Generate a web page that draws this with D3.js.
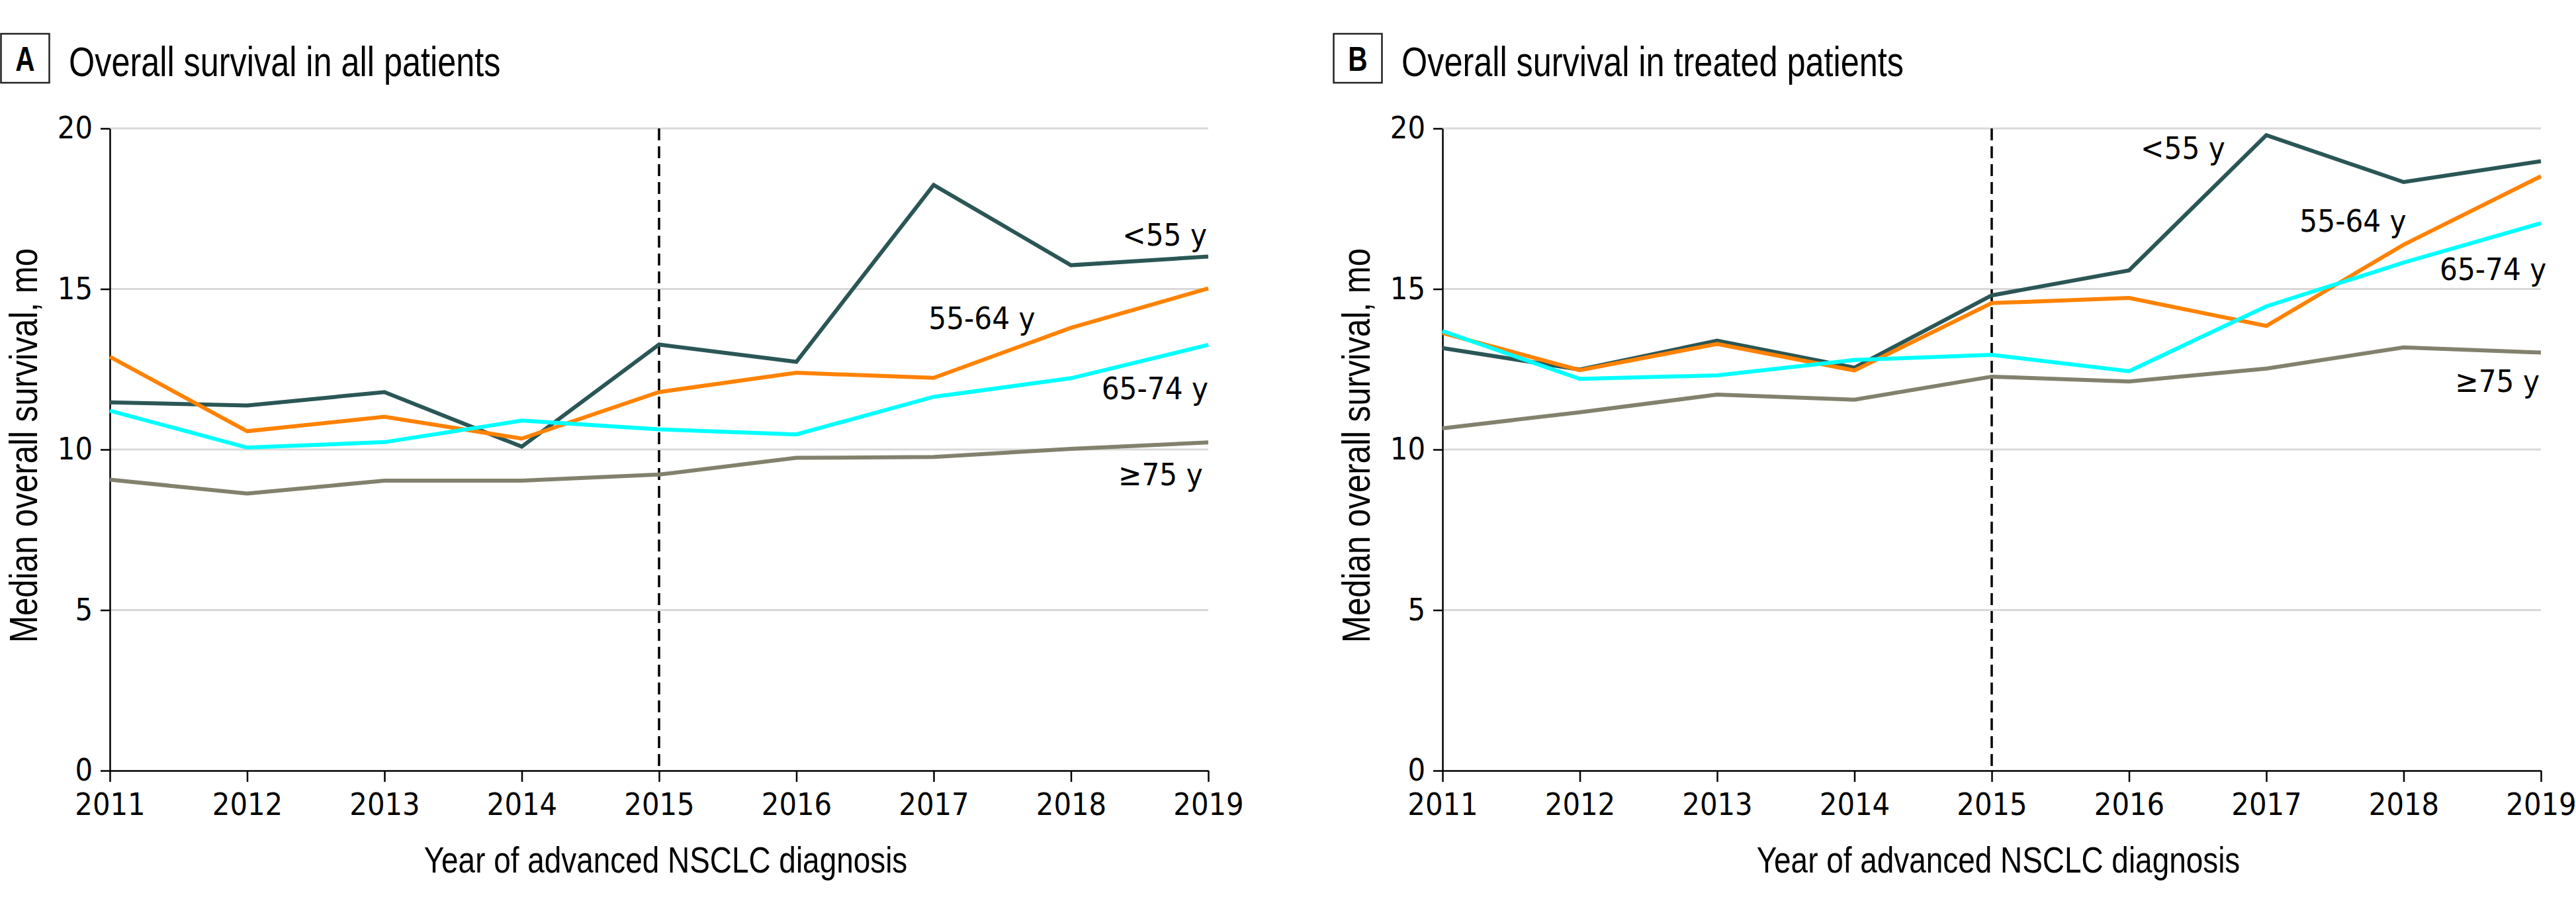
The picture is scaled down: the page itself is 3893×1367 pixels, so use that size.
<!DOCTYPE html>
<html><head><meta charset="utf-8">
<script src="https://cdn.jsdelivr.net/npm/d3@7"></script>
<style>body{margin:0;background:#fff}svg{display:block}</style>
</head><body>
<svg id="chart" width="3893" height="1367"></svg>
<script>
// ---------- data ----------
const years = [2011, 2012, 2013, 2014, 2015, 2016, 2017, 2018, 2019];
const yTicks = [0, 5, 10, 15, 20];
const groups = ["<55 y", "55-64 y", "65-74 y", "\u226575 y"];
const groupColors = ["#2b5656", "#ff8200", "#00ffff", "#82816d"];

// Panel A: overall survival in all patients (median, months)
const allUnder55 = [11.47, 11.37, 11.79, 10.09, 13.27, 12.73, 18.24, 15.74, 16.01];
const all55to64  = [12.89, 10.57, 11.02, 10.34, 11.79, 12.39, 12.23, 13.79, 15.02];
const all65to74  = [11.21, 10.06, 10.23, 10.90, 10.63, 10.47, 11.64, 12.22, 13.26];
const all75plus  = [9.06, 8.63, 9.03, 9.03, 9.22, 9.74, 9.77, 10.02, 10.22];

// Panel B: overall survival in treated patients (median, months)
const trtUnder55 = [13.16, 12.49, 13.39, 12.55, 14.80, 15.58, 19.79, 18.33, 18.98];
const trt55to64  = [13.63, 12.47, 13.29, 12.46, 14.56, 14.72, 13.85, 16.38, 18.51];
const trt65to74  = [13.69, 12.20, 12.31, 12.79, 12.95, 12.44, 14.46, 15.82, 17.05];
const trt75plus  = [10.66, 11.16, 11.71, 11.55, 12.27, 12.12, 12.52, 13.18, 13.02];

// label anchors in data space [year, value] (text end point / baseline)
const labelAnchorsA = [[2018.99, 16.35], [2017.74, 13.75], [2019.0, 11.57], [2018.96, 8.89]];
const labelAnchorsB = [[2016.70, 19.05], [2018.02, 16.78], [2019.04, 15.28], [2018.99, 11.79]];

const refYear = 2015;
const xTitle = "Year of advanced NSCLC diagnosis";
const yTitle = "Median overall survival, mo";

const panels = [
  {letter: "A", title: "Overall survival in all patients", series: [allUnder55, all55to64, all65to74, all75plus], labels: labelAnchorsA, dx: 0},
  {letter: "B", title: "Overall survival in treated patients", series: [trtUnder55, trt55to64, trt65to74, trt75plus], labels: labelAnchorsB, dx: 2014}
];

// ---------- drawing ----------
const svg = d3.select("#chart");
const sansFont = "'Liberation Sans', Arial, sans-serif";
const tickFont = "'DejaVu Sans Condensed', 'DejaVu Sans', sans-serif";
const narrowK = 0.82; // horizontal compression to emulate a narrow face

function narrowText(g, x, y, str, size, anchor, rotate, weight, k) {
  const t = g.append("g").attr("transform", `translate(${x},${y})` + (rotate ? ` rotate(${rotate})` : ""));
  return t.append("text").attr("transform", `scale(${k || narrowK},1)`)
    .attr("text-anchor", anchor).attr("font-family", sansFont).attr("font-size", size)
    .attr("font-weight", weight || "normal").attr("fill", "#000").text(str);
}

panels.forEach(p => {
  const g = svg.append("g").attr("transform", `translate(${p.dx},0)`);
  const x = d3.scaleLinear().domain([years[0], years[years.length - 1]]).range([166, 1826]);
  const y = d3.scaleLinear().domain([0, 20]).range([1164, 194]);

  // panel letter box + title
  g.append("rect").attr("x", 1.5).attr("y", 51).attr("width", 73).attr("height", 74)
    .attr("fill", "none").attr("stroke", "#222").attr("stroke-width", 2.5);
  narrowText(g, 38, 107, p.letter, 52, "middle", 0, "bold", 0.78);
  narrowText(g, 104, 115, p.title, 63, "start", 0, "normal", 0.8);

  // gridlines
  g.append("g").selectAll("line").data(yTicks.filter(d => d > 0)).join("line")
    .attr("x1", x.range()[0]).attr("x2", x.range()[1])
    .attr("y1", d => y(d)).attr("y2", d => y(d))
    .attr("stroke", "#d9d9d9").attr("stroke-width", 3);

  // axes
  const ax = g.append("g").attr("transform", `translate(0,${y(0)})`)
    .call(d3.axisBottom(x).tickValues(years).tickFormat(d3.format("d")).tickSize(17).tickSizeOuter(0).tickPadding(17));
  const ay = g.append("g").attr("transform", `translate(${x(years[0])},0)`)
    .call(d3.axisLeft(y).tickValues(yTicks).tickSize(14).tickSizeOuter(0).tickPadding(12));
  [ax, ay].forEach(a => {
    a.selectAll("path.domain").attr("stroke", "#000").attr("stroke-width", 2.5);
    a.selectAll(".tick line").attr("stroke", "#000").attr("stroke-width", 2.5);
    a.selectAll(".tick text").attr("font-family", tickFont).attr("font-size", 46.5).attr("fill", "#000");
  });

  // reference dashed line
  g.append("line").attr("x1", x(refYear)).attr("x2", x(refYear))
    .attr("y1", y(20)).attr("y2", y(0))
    .attr("stroke", "#000").attr("stroke-width", 3.5).attr("stroke-dasharray", "18 9");

  // series lines
  const line = d3.line().x((d, i) => x(years[i])).y(d => y(d));
  p.series.forEach((s, k) => {
    g.append("path").datum(s).attr("d", line)
      .attr("fill", "none").attr("stroke", groupColors[k]).attr("stroke-width", 6)
      .attr("stroke-linejoin", "miter");
  });

  // series labels
  g.append("g").selectAll("text").data(p.labels).join("text")
    .attr("x", d => x(d[0])).attr("y", d => y(d[1]))
    .attr("text-anchor", "end").attr("font-family", tickFont).attr("font-size", 47)
    .attr("fill", "#000").text((d, i) => groups[i]);

  // axis titles
  narrowText(g, (x.range()[0] + x.range()[1]) / 2 + 10, 1318, xTitle, 56, "middle", 0);
  narrowText(g, 56, (y.range()[0] + y.range()[1]) / 2 - 6, yTitle, 60, "middle", -90);
});
</script>
</body></html>
